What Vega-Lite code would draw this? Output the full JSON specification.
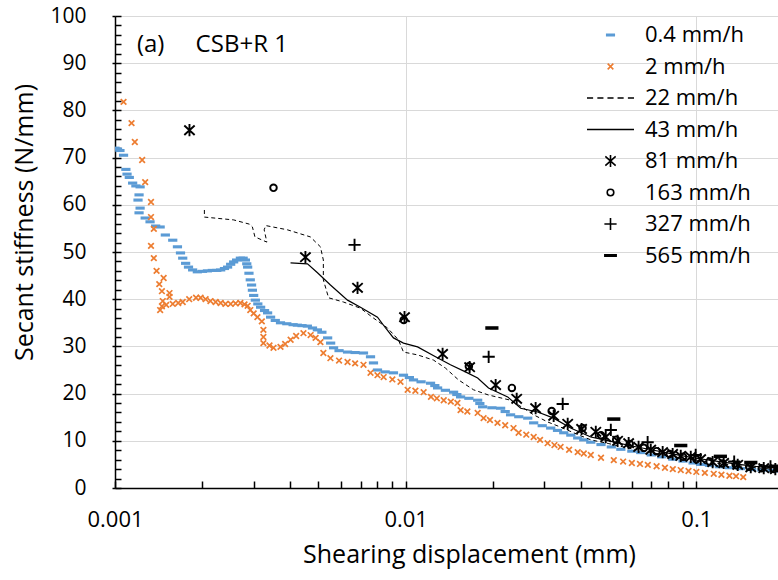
{
  "$schema": "https://vega.github.io/schema/vega-lite/v6.json",
  "width": 663,
  "height": 472,
  "autosize": "none",
  "padding": {"left": 115, "top": 16, "right": 0, "bottom": 92},
  "background": "white",
  "config": {"font": "Open Sans", "view": {"stroke": null}},
  "datasets": {
    "pts": [
      {"s":"0.4 mm/h","x":0.00100,"y":72.0},{"s":"0.4 mm/h","x":0.00102,"y":71.8},{"s":"0.4 mm/h","x":0.00104,"y":71.5},{"s":"0.4 mm/h","x":0.00107,"y":70.5},{"s":"0.4 mm/h","x":0.00109,"y":67.5},{"s":"0.4 mm/h","x":0.00110,"y":66.5},{"s":"0.4 mm/h","x":0.00112,"y":65.8},{"s":"0.4 mm/h","x":0.00115,"y":64.6},{"s":"0.4 mm/h","x":0.00118,"y":64.0},{"s":"0.4 mm/h","x":0.00122,"y":63.8},{"s":"0.4 mm/h","x":0.00121,"y":62.1},{"s":"0.4 mm/h","x":0.00120,"y":61.0},{"s":"0.4 mm/h","x":0.00122,"y":59.3},{"s":"0.4 mm/h","x":0.00121,"y":58.3},{"s":"0.4 mm/h","x":0.00127,"y":57.2},{"s":"0.4 mm/h","x":0.00132,"y":56.4},{"s":"0.4 mm/h","x":0.00138,"y":55.5},{"s":"0.4 mm/h","x":0.00143,"y":55.3},{"s":"0.4 mm/h","x":0.00149,"y":53.6},{"s":"0.4 mm/h","x":0.00158,"y":52.5},{"s":"0.4 mm/h","x":0.00164,"y":51.1},{"s":"0.4 mm/h","x":0.00168,"y":49.8},{"s":"0.4 mm/h","x":0.00171,"y":48.7},{"s":"0.4 mm/h","x":0.00175,"y":47.6},{"s":"0.4 mm/h","x":0.00179,"y":46.8},{"s":"0.4 mm/h","x":0.00185,"y":46.2},{"s":"0.4 mm/h","x":0.00192,"y":45.8},{"s":"0.4 mm/h","x":0.00200,"y":45.9},{"s":"0.4 mm/h","x":0.00208,"y":46.0},{"s":"0.4 mm/h","x":0.00216,"y":46.1},{"s":"0.4 mm/h","x":0.00224,"y":46.1},{"s":"0.4 mm/h","x":0.00231,"y":46.2},{"s":"0.4 mm/h","x":0.00238,"y":46.5},{"s":"0.4 mm/h","x":0.00244,"y":46.8},{"s":"0.4 mm/h","x":0.00250,"y":47.4},{"s":"0.4 mm/h","x":0.00256,"y":47.9},{"s":"0.4 mm/h","x":0.00262,"y":48.3},{"s":"0.4 mm/h","x":0.00270,"y":48.7},{"s":"0.4 mm/h","x":0.00276,"y":48.7},{"s":"0.4 mm/h","x":0.00281,"y":48.3},{"s":"0.4 mm/h","x":0.00284,"y":47.5},{"s":"0.4 mm/h","x":0.00286,"y":46.8},{"s":"0.4 mm/h","x":0.00289,"y":45.5},{"s":"0.4 mm/h","x":0.00292,"y":44.1},{"s":"0.4 mm/h","x":0.00295,"y":43.0},{"s":"0.4 mm/h","x":0.00297,"y":41.9},{"s":"0.4 mm/h","x":0.00300,"y":40.8},{"s":"0.4 mm/h","x":0.00304,"y":39.8},{"s":"0.4 mm/h","x":0.00310,"y":39.0},{"s":"0.4 mm/h","x":0.00317,"y":38.3},{"s":"0.4 mm/h","x":0.00327,"y":37.6},{"s":"0.4 mm/h","x":0.00335,"y":37.1},{"s":"0.4 mm/h","x":0.00343,"y":36.2},{"s":"0.4 mm/h","x":0.00356,"y":35.5},{"s":"0.4 mm/h","x":0.00371,"y":35.0},{"s":"0.4 mm/h","x":0.00390,"y":34.8},{"s":"0.4 mm/h","x":0.00410,"y":34.6},{"s":"0.4 mm/h","x":0.00424,"y":34.5},{"s":"0.4 mm/h","x":0.00440,"y":34.4},{"s":"0.4 mm/h","x":0.00459,"y":34.3},{"s":"0.4 mm/h","x":0.00478,"y":33.9},{"s":"0.4 mm/h","x":0.00497,"y":33.5},{"s":"0.4 mm/h","x":0.00515,"y":33.0},{"s":"0.4 mm/h","x":0.00539,"y":31.8},{"s":"0.4 mm/h","x":0.00552,"y":30.7},{"s":"0.4 mm/h","x":0.00565,"y":29.7},{"s":"0.4 mm/h","x":0.00590,"y":29.1},{"s":"0.4 mm/h","x":0.00631,"y":28.8},{"s":"0.4 mm/h","x":0.00670,"y":28.7},{"s":"0.4 mm/h","x":0.00716,"y":28.6},{"s":"0.4 mm/h","x":0.00757,"y":27.8},{"s":"0.4 mm/h","x":0.00775,"y":26.5},{"s":"0.4 mm/h","x":0.00800,"y":25.0},{"s":"0.4 mm/h","x":0.00850,"y":24.6},{"s":"0.4 mm/h","x":0.00908,"y":24.4},{"s":"0.4 mm/h","x":0.00983,"y":23.9},{"s":"0.4 mm/h","x":0.0103,"y":23.4},{"s":"0.4 mm/h","x":0.01064,"y":22.9},{"s":"0.4 mm/h","x":0.0113,"y":22.5},{"s":"0.4 mm/h","x":0.01218,"y":22.2},{"s":"0.4 mm/h","x":0.0126,"y":21.7},{"s":"0.4 mm/h","x":0.01288,"y":21.2},{"s":"0.4 mm/h","x":0.0137,"y":20.7},{"s":"0.4 mm/h","x":0.01462,"y":20.3},{"s":"0.4 mm/h","x":0.0150,"y":19.8},{"s":"0.4 mm/h","x":0.01545,"y":19.3},{"s":"0.4 mm/h","x":0.0165,"y":19.0},{"s":"0.4 mm/h","x":0.01769,"y":18.6},{"s":"0.4 mm/h","x":0.0180,"y":17.9},{"s":"0.4 mm/h","x":0.0184,"y":17.2},{"s":"0.4 mm/h","x":0.0198,"y":17.0},{"s":"0.4 mm/h","x":0.02122,"y":16.9},{"s":"0.4 mm/h","x":0.0220,"y":16.2},{"s":"0.4 mm/h","x":0.02296,"y":15.5},{"s":"0.4 mm/h","x":0.0245,"y":15.1},{"s":"0.4 mm/h","x":0.0263,"y":14.8},{"s":"0.4 mm/h","x":0.02757,"y":13.8},{"s":"0.4 mm/h","x":0.0295,"y":13.2},{"s":"0.4 mm/h","x":0.03155,"y":12.7},{"s":"0.4 mm/h","x":0.0333,"y":12.2},{"s":"0.4 mm/h","x":0.03499,"y":11.7},{"s":"0.4 mm/h","x":0.0370,"y":11.2},{"s":"0.4 mm/h","x":0.03908,"y":10.6},{"s":"0.4 mm/h","x":0.0410,"y":10.2},{"s":"0.4 mm/h","x":0.04334,"y":9.7},{"s":"0.4 mm/h","x":0.047,"y":9.2},{"s":"0.4 mm/h","x":0.051,"y":8.7},{"s":"0.4 mm/h","x":0.055,"y":8.2},{"s":"0.4 mm/h","x":0.060,"y":7.8},{"s":"0.4 mm/h","x":0.0644,"y":7.5},{"s":"0.4 mm/h","x":0.070,"y":7.0},{"s":"0.4 mm/h","x":0.076,"y":6.6},{"s":"0.4 mm/h","x":0.083,"y":6.1},{"s":"0.4 mm/h","x":0.090,"y":5.7},{"s":"0.4 mm/h","x":0.0975,"y":5.3},{"s":"0.4 mm/h","x":0.1035,"y":5.0},{"s":"0.4 mm/h","x":0.111,"y":4.8},{"s":"0.4 mm/h","x":0.120,"y":4.5},{"s":"0.4 mm/h","x":0.130,"y":4.3},{"s":"0.4 mm/h","x":0.142,"y":4.1},{"s":"0.4 mm/h","x":0.155,"y":3.9},{"s":"0.4 mm/h","x":0.168,"y":3.8},{"s":"0.4 mm/h","x":0.182,"y":3.7},{"s":"0.4 mm/h","x":0.190,"y":3.6},
      {"s":"2 mm/h","x":0.00107,"y":81.8},{"s":"2 mm/h","x":0.00114,"y":77.3},{"s":"2 mm/h","x":0.00117,"y":73.3},{"s":"2 mm/h","x":0.00124,"y":69.5},{"s":"2 mm/h","x":0.00127,"y":64.8},{"s":"2 mm/h","x":0.00133,"y":60.6},{"s":"2 mm/h","x":0.00133,"y":57.4},{"s":"2 mm/h","x":0.00136,"y":54.9},{"s":"2 mm/h","x":0.00133,"y":51.3},{"s":"2 mm/h","x":0.00136,"y":48.7},{"s":"2 mm/h","x":0.00139,"y":46.0},{"s":"2 mm/h","x":0.00147,"y":44.5},{"s":"2 mm/h","x":0.00142,"y":43.2},{"s":"2 mm/h","x":0.00145,"y":41.7},{"s":"2 mm/h","x":0.00154,"y":41.3},{"s":"2 mm/h","x":0.00154,"y":40.5},{"s":"2 mm/h","x":0.00146,"y":39.6},{"s":"2 mm/h","x":0.00143,"y":37.7},{"s":"2 mm/h","x":0.00145,"y":38.5},{"s":"2 mm/h","x":0.00150,"y":38.8},{"s":"2 mm/h","x":0.00158,"y":39.0},{"s":"2 mm/h","x":0.00165,"y":39.2},{"s":"2 mm/h","x":0.00171,"y":39.4},{"s":"2 mm/h","x":0.00180,"y":40.0},{"s":"2 mm/h","x":0.00190,"y":40.3},{"s":"2 mm/h","x":0.00197,"y":40.3},{"s":"2 mm/h","x":0.00205,"y":40.0},{"s":"2 mm/h","x":0.00213,"y":39.6},{"s":"2 mm/h","x":0.00222,"y":39.4},{"s":"2 mm/h","x":0.00231,"y":39.2},{"s":"2 mm/h","x":0.00240,"y":39.0},{"s":"2 mm/h","x":0.00250,"y":39.0},{"s":"2 mm/h","x":0.00260,"y":39.1},{"s":"2 mm/h","x":0.00270,"y":39.2},{"s":"2 mm/h","x":0.00279,"y":38.9},{"s":"2 mm/h","x":0.00286,"y":38.6},{"s":"2 mm/h","x":0.00292,"y":37.7},{"s":"2 mm/h","x":0.00300,"y":37.0},{"s":"2 mm/h","x":0.00309,"y":36.2},{"s":"2 mm/h","x":0.00320,"y":35.3},{"s":"2 mm/h","x":0.00324,"y":33.5},{"s":"2 mm/h","x":0.00324,"y":32.0},{"s":"2 mm/h","x":0.00324,"y":30.7},{"s":"2 mm/h","x":0.00340,"y":30.2},{"s":"2 mm/h","x":0.00351,"y":29.7},{"s":"2 mm/h","x":0.00371,"y":29.9},{"s":"2 mm/h","x":0.00385,"y":30.5},{"s":"2 mm/h","x":0.00402,"y":31.4},{"s":"2 mm/h","x":0.00420,"y":32.2},{"s":"2 mm/h","x":0.00445,"y":32.8},{"s":"2 mm/h","x":0.00471,"y":32.4},{"s":"2 mm/h","x":0.00490,"y":31.8},{"s":"2 mm/h","x":0.00509,"y":30.9},{"s":"2 mm/h","x":0.00521,"y":28.6},{"s":"2 mm/h","x":0.00551,"y":27.5},{"s":"2 mm/h","x":0.00590,"y":27.0},{"s":"2 mm/h","x":0.00631,"y":26.7},{"s":"2 mm/h","x":0.00670,"y":26.4},{"s":"2 mm/h","x":0.00716,"y":26.1},{"s":"2 mm/h","x":0.00757,"y":24.4},{"s":"2 mm/h","x":0.0080,"y":23.9},{"s":"2 mm/h","x":0.00840,"y":23.5},{"s":"2 mm/h","x":0.00900,"y":23.0},{"s":"2 mm/h","x":0.00960,"y":22.5},{"s":"2 mm/h","x":0.01016,"y":20.8},{"s":"2 mm/h","x":0.0108,"y":20.6},{"s":"2 mm/h","x":0.01153,"y":20.3},{"s":"2 mm/h","x":0.01222,"y":19.3},{"s":"2 mm/h","x":0.0128,"y":19.0},{"s":"2 mm/h","x":0.01352,"y":18.6},{"s":"2 mm/h","x":0.0143,"y":18.3},{"s":"2 mm/h","x":0.01507,"y":18.0},{"s":"2 mm/h","x":0.01545,"y":16.5},{"s":"2 mm/h","x":0.0163,"y":16.2},{"s":"2 mm/h","x":0.01769,"y":15.9},{"s":"2 mm/h","x":0.01854,"y":14.8},{"s":"2 mm/h","x":0.0195,"y":14.4},{"s":"2 mm/h","x":0.0207,"y":13.8},{"s":"2 mm/h","x":0.0220,"y":13.3},{"s":"2 mm/h","x":0.0235,"y":12.7},{"s":"2 mm/h","x":0.02447,"y":11.7},{"s":"2 mm/h","x":0.0260,"y":11.3},{"s":"2 mm/h","x":0.02757,"y":10.8},{"s":"2 mm/h","x":0.0290,"y":10.2},{"s":"2 mm/h","x":0.03079,"y":9.5},{"s":"2 mm/h","x":0.0325,"y":9.1},{"s":"2 mm/h","x":0.03412,"y":8.7},{"s":"2 mm/h","x":0.0365,"y":8.1},{"s":"2 mm/h","x":0.03908,"y":7.6},{"s":"2 mm/h","x":0.0410,"y":7.3},{"s":"2 mm/h","x":0.04334,"y":7.0},{"s":"2 mm/h","x":0.047,"y":6.4},{"s":"2 mm/h","x":0.052,"y":5.9},{"s":"2 mm/h","x":0.056,"y":5.6},{"s":"2 mm/h","x":0.060,"y":5.3},{"s":"2 mm/h","x":0.064,"y":5.1},{"s":"2 mm/h","x":0.0681,"y":4.9},{"s":"2 mm/h","x":0.073,"y":4.6},{"s":"2 mm/h","x":0.078,"y":4.3},{"s":"2 mm/h","x":0.083,"y":4.0},{"s":"2 mm/h","x":0.0884,"y":3.8},{"s":"2 mm/h","x":0.094,"y":3.6},{"s":"2 mm/h","x":0.100,"y":3.4},{"s":"2 mm/h","x":0.107,"y":3.2},{"s":"2 mm/h","x":0.1148,"y":3.0},{"s":"2 mm/h","x":0.122,"y":2.8},{"s":"2 mm/h","x":0.130,"y":2.6},{"s":"2 mm/h","x":0.137,"y":2.5},{"s":"2 mm/h","x":0.145,"y":2.3}
    ],
    "blk": [
      {"s":"81 mm/h","x":0.001804,"y":75.8},{"s":"81 mm/h","x":0.00452,"y":48.9},{"s":"81 mm/h","x":0.00683,"y":42.4},{"s":"81 mm/h","x":0.00991,"y":36.2},{"s":"81 mm/h","x":0.0134,"y":28.4},{"s":"81 mm/h","x":0.0166,"y":25.6},{"s":"81 mm/h","x":0.0204,"y":21.8},{"s":"81 mm/h","x":0.0241,"y":18.9},{"s":"81 mm/h","x":0.0280,"y":16.9},{"s":"81 mm/h","x":0.0323,"y":15.3},{"s":"81 mm/h","x":0.0361,"y":13.6},{"s":"81 mm/h","x":0.0403,"y":12.5},{"s":"81 mm/h","x":0.0451,"y":11.9},{"s":"81 mm/h","x":0.0488,"y":10.8},{"s":"81 mm/h","x":0.0536,"y":10.0},{"s":"81 mm/h","x":0.0585,"y":9.5},{"s":"81 mm/h","x":0.0633,"y":8.7},{"s":"81 mm/h","x":0.0697,"y":8.1},{"s":"81 mm/h","x":0.0766,"y":7.6},{"s":"81 mm/h","x":0.0829,"y":7.2},{"s":"81 mm/h","x":0.0884,"y":6.8},{"s":"81 mm/h","x":0.0957,"y":6.6},{"s":"81 mm/h","x":0.1035,"y":6.1},{"s":"81 mm/h","x":0.1138,"y":5.5},{"s":"81 mm/h","x":0.1242,"y":5.3},{"s":"81 mm/h","x":0.1388,"y":4.9},{"s":"81 mm/h","x":0.1539,"y":4.4},{"s":"81 mm/h","x":0.1706,"y":4.2},{"s":"81 mm/h","x":0.1870,"y":4.0},
      {"s":"163 mm/h","x":0.00351,"y":63.6},{"s":"163 mm/h","x":0.00985,"y":35.6},{"s":"163 mm/h","x":0.0165,"y":25.8},{"s":"163 mm/h","x":0.0232,"y":21.2},{"s":"163 mm/h","x":0.0318,"y":16.3},{"s":"163 mm/h","x":0.0406,"y":12.7},{"s":"163 mm/h","x":0.047,"y":11.2},{"s":"163 mm/h","x":0.053,"y":10.2},{"s":"163 mm/h","x":0.059,"y":9.3},{"s":"163 mm/h","x":0.066,"y":8.5},{"s":"163 mm/h","x":0.073,"y":7.8},{"s":"163 mm/h","x":0.081,"y":7.2},{"s":"163 mm/h","x":0.090,"y":6.6},{"s":"163 mm/h","x":0.100,"y":6.1},{"s":"163 mm/h","x":0.111,"y":5.6},{"s":"163 mm/h","x":0.123,"y":5.2},{"s":"163 mm/h","x":0.137,"y":4.8},{"s":"163 mm/h","x":0.152,"y":4.5},{"s":"163 mm/h","x":0.168,"y":4.2},{"s":"163 mm/h","x":0.185,"y":4.0},
      {"s":"327 mm/h","x":0.00667,"y":51.5},{"s":"327 mm/h","x":0.0193,"y":27.8},{"s":"327 mm/h","x":0.0347,"y":17.8},{"s":"327 mm/h","x":0.0508,"y":12.3},{"s":"327 mm/h","x":0.068,"y":9.7},{"s":"327 mm/h","x":0.0995,"y":7.0},{"s":"327 mm/h","x":0.135,"y":5.6},{"s":"327 mm/h","x":0.180,"y":4.6},
      {"s":"565 mm/h","x":0.0198,"y":33.9},{"s":"565 mm/h","x":0.052,"y":14.6},{"s":"565 mm/h","x":0.0884,"y":9.0},{"s":"565 mm/h","x":0.121,"y":6.7},{"s":"565 mm/h","x":0.154,"y":5.4},{"s":"565 mm/h","x":0.188,"y":4.6}
    ],
    "l22": [
      {"i":1,"x":0.00203,"y":58.9},{"i":2,"x":0.00203,"y":57.4},{"i":3,"x":0.00256,"y":56.8},{"i":4,"x":0.00290,"y":55.9},{"i":5,"x":0.00297,"y":55.3},{"i":6,"x":0.00303,"y":53.2},{"i":7,"x":0.00333,"y":52.1},{"i":8,"x":0.00326,"y":54.7},{"i":9,"x":0.00330,"y":55.6},{"i":10,"x":0.00392,"y":54.7},{"i":11,"x":0.00470,"y":53.2},{"i":12,"x":0.00509,"y":51.1},{"i":13,"x":0.00521,"y":48.3},{"i":14,"x":0.00521,"y":44.1},{"i":15,"x":0.00543,"y":40.3},{"i":16,"x":0.00611,"y":39.4},{"i":17,"x":0.00699,"y":38.1},{"i":18,"x":0.00775,"y":36.0},{"i":19,"x":0.00866,"y":33.9},{"i":20,"x":0.00944,"y":31.4},{"i":21,"x":0.00983,"y":28.8},{"i":22,"x":0.01099,"y":28.2},{"i":23,"x":0.01247,"y":27.1},{"i":24,"x":0.01371,"y":25.4},{"i":25,"x":0.0152,"y":22.9},{"i":26,"x":0.01713,"y":20.8},{"i":27,"x":0.01928,"y":19.7},{"i":28,"x":0.02296,"y":18.6},{"i":29,"x":0.02547,"y":16.9},{"i":30,"x":0.02757,"y":15.5},{"i":31,"x":0.03079,"y":14.0},{"i":32,"x":0.03412,"y":12.9},{"i":33,"x":0.03784,"y":11.7},{"i":34,"x":0.04334,"y":10.2},{"i":35,"x":0.050,"y":9.4},{"i":36,"x":0.060,"y":8.3},{"i":37,"x":0.070,"y":7.5},{"i":38,"x":0.080,"y":6.8},{"i":39,"x":0.090,"y":6.3},{"i":40,"x":0.100,"y":5.9},{"i":41,"x":0.120,"y":5.2},{"i":42,"x":0.140,"y":4.7},{"i":43,"x":0.160,"y":4.3},{"i":44,"x":0.191,"y":3.9}
    ],
    "l43": [
      {"i":1,"x":0.004017,"y":47.7},{"i":2,"x":0.004594,"y":47.5},{"i":3,"x":0.004973,"y":45.6},{"i":4,"x":0.005511,"y":43.0},{"i":5,"x":0.00631,"y":39.8},{"i":6,"x":0.00699,"y":38.3},{"i":7,"x":0.0080,"y":36.2},{"i":8,"x":0.00853,"y":33.9},{"i":9,"x":0.00908,"y":31.8},{"i":10,"x":0.00983,"y":30.7},{"i":11,"x":0.01099,"y":29.9},{"i":12,"x":0.01267,"y":27.8},{"i":13,"x":0.01426,"y":26.1},{"i":14,"x":0.01606,"y":24.6},{"i":15,"x":0.01769,"y":23.3},{"i":16,"x":0.01928,"y":21.2},{"i":17,"x":0.02244,"y":19.3},{"i":18,"x":0.02488,"y":16.9},{"i":19,"x":0.02847,"y":16.1},{"i":20,"x":0.03229,"y":14.8},{"i":21,"x":0.03696,"y":12.7},{"i":22,"x":0.04334,"y":10.8},{"i":23,"x":0.050,"y":10.0},{"i":24,"x":0.060,"y":8.9},{"i":25,"x":0.070,"y":8.1},{"i":26,"x":0.080,"y":7.4},{"i":27,"x":0.090,"y":6.8},{"i":28,"x":0.100,"y":6.3},{"i":29,"x":0.120,"y":5.6},{"i":30,"x":0.140,"y":5.0},{"i":31,"x":0.160,"y":4.6},{"i":32,"x":0.191,"y":4.2}
    ],
    "note": [{"x":0.00119,"y":93.9,"t":"(a)\u00a0\u00a0\u00a0\u00a0\u00a0CSB+R 1"}]
  },
  "layer": [
    {
      "data": {"name": "pts"},
      "mark": {"type": "point", "filled": false, "size": 2209, "strokeWidth": 1.7, "opacity": 1, "clip": true},
      "encoding": {
        "x": {"field": "x", "type": "quantitative", "scale": {"type": "log", "domain": [0.001, 0.191], "nice": false},
          "axis": {"values": [0.001, 0.01, 0.1], "format": "~g", "ticks": false, "grid": true, "gridColor": "#d9d9d9", "gridWidth": 1,
            "domainColor": "black", "domainWidth": 1.5, "labelFontSize": 22, "labelColor": "black", "labelPadding": 21, "labelFlush": false,
            "title": "Shearing displacement (mm)", "titleFontSize": 25, "titleFontWeight": "normal", "titleColor": "black", "titlePadding": 12, "titleX": 354}},
        "y": {"field": "y", "type": "quantitative", "scale": {"domain": [0, 100], "nice": false},
          "axis": {"values": [0,10,20,30,40,50,60,70,80,90,100], "ticks": true, "tickSize": 3, "tickColor": "black", "tickWidth": 1.5, "grid": true, "gridColor": "#d9d9d9", "gridWidth": 1,
            "domainColor": "black", "domainWidth": 1.5, "labelFontSize": 21, "labelColor": "black", "labelPadding": 26,
            "title": "Secant stiffness (N/mm)", "titleFontSize": 25, "titleFontWeight": "normal", "titleColor": "black", "titlePadding": 12, "titleY": 206}},
        "color": {"field": "s", "type": "nominal",
          "scale": {"domain": ["0.4 mm/h","2 mm/h","22 mm/h","43 mm/h","81 mm/h","163 mm/h","327 mm/h","565 mm/h"],
                    "range": ["#5B9BD5","#ED7D31","black","black","black","black","black","black"]},
          "legend": {"title": null, "orient": "none", "legendX": 471, "legendY": 9, "padding": 0, "symbolSize": 2209, "symbolStrokeWidth": 1.6, "clipHeight": 20, "rowPadding": 9.5, "labelOffset": 10, "labelFontSize": 22, "labelColor": "black", "labelFont": "Open Sans"}},
        "shape": {"field": "s", "type": "nominal",
          "scale": {"domain": ["0.4 mm/h","2 mm/h","22 mm/h","43 mm/h","81 mm/h","163 mm/h","327 mm/h","565 mm/h"],
                    "range": ["M-0.16,-0.03H0.16V0.03H-0.16Z","M-0.12,-0.12L0.12,0.12M-0.12,0.12L0.12,-0.12","M-1,0H-0.74M-0.56,0H-0.3M-0.13,0H0.13M0.3,0H0.56M0.74,0H1","M-1,0H1","M-0.22,-0.2L0.22,0.2M-0.22,0.2L0.22,-0.2M0,-0.26V0.26","M0.14,0A0.14,0.14 0 1,1 -0.14,0A0.14,0.14 0 1,1 0.14,0Z","M-0.26,0H0.26M0,-0.26V0.26","M-0.24,-0.035H0.24V0.035H-0.24Z"]}}
      }
    },
    {
      "data": {"name": "l22"},
      "mark": {"type": "line", "color": "black", "strokeWidth": 1, "strokeDash": [4, 3], "clip": true},
      "encoding": {
        "x": {"field": "x", "type": "quantitative", "scale": {"type": "log", "domain": [0.001, 0.191], "nice": false},
          "axis": {"orient": "bottom", "values": [0.001,0.002,0.003,0.004,0.005,0.006,0.007,0.008,0.009,0.01,0.02,0.03,0.04,0.05,0.06,0.07,0.08,0.09,0.1], "labels": false, "domain": false, "grid": false, "ticks": true, "tickSize": -7, "tickColor": "black", "tickWidth": 1.5, "title": null}},
        "y": {"field": "y", "type": "quantitative", "scale": {"domain": [0, 100], "nice": false},
          "axis": {"orient": "left", "values": [0,2,4,6,8,10,12,14,16,18,20,22,24,26,28,30,32,34,36,38,40,42,44,46,48,50,52,54,56,58,60,62,64,66,68,70,72,74,76,78,80,82,84,86,88,90,92,94,96,98,100], "labels": false, "domain": false, "grid": false, "ticks": true, "tickSize": -6, "tickColor": "black", "tickWidth": 1.5, "title": null}},
        "order": {"field": "i", "type": "quantitative"}
      }
    },
    {
      "data": {"name": "l43"},
      "mark": {"type": "line", "color": "black", "strokeWidth": 1.2, "clip": true},
      "encoding": {
        "x": {"field": "x", "type": "quantitative", "scale": {"type": "log", "domain": [0.001, 0.191], "nice": false}, "axis": null},
        "y": {"field": "y", "type": "quantitative", "scale": {"domain": [0, 100], "nice": false}, "axis": null},
        "order": {"field": "i", "type": "quantitative"}
      }
    },
    {
      "data": {"name": "blk"},
      "mark": {"type": "point", "filled": false, "size": 2209, "strokeWidth": 1.9, "opacity": 1, "clip": true},
      "encoding": {
        "x": {"field": "x", "type": "quantitative", "scale": {"type": "log", "domain": [0.001, 0.191], "nice": false}, "axis": null},
        "y": {"field": "y", "type": "quantitative", "scale": {"domain": [0, 100], "nice": false}, "axis": null},
        "color": {"field": "s", "type": "nominal"},
        "shape": {"field": "s", "type": "nominal"}
      }
    },
    {
      "data": {"name": "note"},
      "mark": {"type": "text", "align": "left", "baseline": "middle", "fontSize": 24, "font": "Open Sans", "color": "black"},
      "encoding": {
        "x": {"field": "x", "type": "quantitative", "scale": {"type": "log", "domain": [0.001, 0.191], "nice": false}, "axis": null},
        "y": {"field": "y", "type": "quantitative", "scale": {"domain": [0, 100], "nice": false}, "axis": null},
        "text": {"field": "t"}
      }
    }
  ],
  "resolve": {"axis": {"x": "independent", "y": "independent"}}
}
